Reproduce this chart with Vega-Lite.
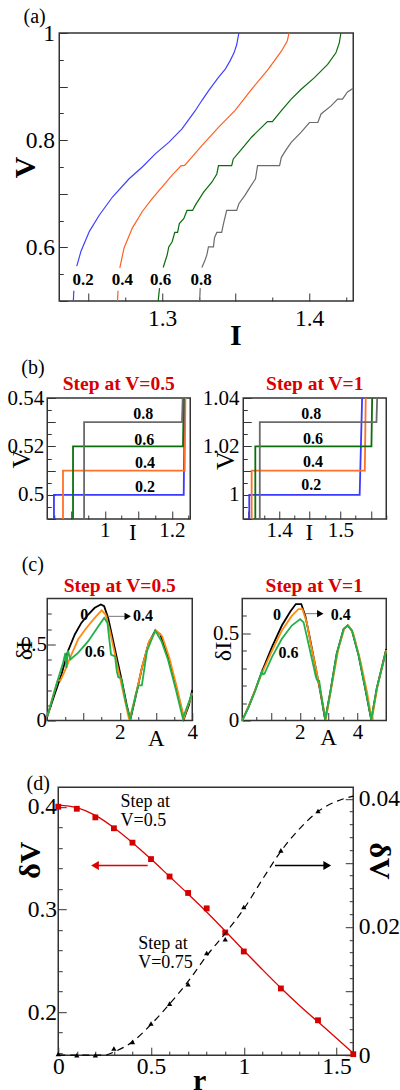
{
"$schema": "https://vega.github.io/schema/vega-lite/v6.json",
"background": "white",
"padding": {"left": 6.25, "top": 6, "right": 0, "bottom": 0},
"config": {
  "view": {"stroke": "#333333", "strokeWidth": 1.5},
  "axis": {"grid": false, "domain": false, "labelFont": "Liberation Serif", "titleFont": "Liberation Serif", "labelColor": "#000000", "titleColor": "#000000", "tickColor": "#333333", "tickWidth": 1, "labelOverlap": false, "labelFlush": false, "titleFontWeight": "normal", "labelBound": false, "format": "~g"},
  "title": {"font": "Liberation Serif", "color": "#000000", "fontWeight": "normal"},
  "text": {"font": "Liberation Serif"},
  "line": {"strokeCap": "butt"}
},
"spacing": 8.5,
"resolve": {"scale": {"color": "independent"}},
"vconcat": [
 {"spacing": 5, "resolve": {"scale": {"color": "independent"}}, "vconcat": [
  {"spacing": 0, "bounds": "flush", "resolve": {"scale": {"color": "independent"}}, "hconcat": [
   {"width": 11.2, "height": 10, "view": {"stroke": null}, "data": {"values": [{"u": 0}]}, "mark": {"type": "point", "opacity": 0}, "encoding": {}},
   {"width": 294, "height": 268,
    "title": {"text": "(a)", "anchor": "start", "frame": "group", "dx": -35.7, "offset": -6, "fontSize": 20},
    "resolve": {"axis": {"x": "independent", "y": "independent"}},
    "layer": [
     {"data": {"values": [
      {"r":"0.2","s":1,"I":1.2396,"V":0.5},{"r":"0.2","s":1,"I":1.2399,"V":0.519},
      {"r":"0.2","s":2,"I":1.2419,"V":0.565},{"r":"0.2","s":2,"I":1.2448,"V":0.593},{"r":"0.2","s":2,"I":1.2505,"V":0.63},{"r":"0.2","s":2,"I":1.2572,"V":0.66},{"r":"0.2","s":2,"I":1.2662,"V":0.694},{"r":"0.2","s":2,"I":1.2775,"V":0.728},{"r":"0.2","s":2,"I":1.2865,"V":0.75},{"r":"0.2","s":2,"I":1.2955,"V":0.775},{"r":"0.2","s":2,"I":1.3045,"V":0.796},{"r":"0.2","s":2,"I":1.3135,"V":0.821},{"r":"0.2","s":2,"I":1.3225,"V":0.855},{"r":"0.2","s":2,"I":1.327,"V":0.874},{"r":"0.2","s":2,"I":1.3315,"V":0.892},{"r":"0.2","s":2,"I":1.3383,"V":0.917},{"r":"0.2","s":2,"I":1.3428,"V":0.932},{"r":"0.2","s":2,"I":1.3462,"V":0.948},{"r":"0.2","s":2,"I":1.3489,"V":0.963},{"r":"0.2","s":2,"I":1.3507,"V":0.978},{"r":"0.2","s":2,"I":1.3518,"V":0.994},{"r":"0.2","s":2,"I":1.3522,"V":1.0},
      {"r":"0.4","s":1,"I":1.2696,"V":0.5},{"r":"0.4","s":1,"I":1.27,"V":0.519},
      {"r":"0.4","s":2,"I":1.2712,"V":0.562},{"r":"0.4","s":2,"I":1.2741,"V":0.599},{"r":"0.4","s":2,"I":1.2797,"V":0.636},{"r":"0.4","s":2,"I":1.2865,"V":0.667},{"r":"0.4","s":2,"I":1.2932,"V":0.691},{"r":"0.4","s":2,"I":1.3,"V":0.713},{"r":"0.4","s":2,"I":1.3068,"V":0.735},{"r":"0.4","s":2,"I":1.3128,"V":0.752},{"r":"0.4","s":2,"I":1.3153,"V":0.753},{"r":"0.4","s":2,"I":1.3214,"V":0.772},{"r":"0.4","s":2,"I":1.327,"V":0.79},{"r":"0.4","s":2,"I":1.3383,"V":0.824},{"r":"0.4","s":2,"I":1.3495,"V":0.855},{"r":"0.4","s":2,"I":1.3608,"V":0.895},{"r":"0.4","s":2,"I":1.3721,"V":0.932},{"r":"0.4","s":2,"I":1.3811,"V":0.966},{"r":"0.4","s":2,"I":1.3851,"V":0.985},{"r":"0.4","s":2,"I":1.3863,"V":1.0},
      {"r":"0.6","s":1,"I":1.2973,"V":0.5},{"r":"0.6","s":1,"I":1.2982,"V":0.524},
      {"r":"0.6","s":2,"I":1.3007,"V":0.5624},{"r":"0.6","s":2,"I":1.3034,"V":0.5858},{"r":"0.6","s":2,"I":1.3045,"V":0.601},{"r":"0.6","s":2,"I":1.3068,"V":0.6105},{"r":"0.6","s":2,"I":1.3086,"V":0.628},{"r":"0.6","s":2,"I":1.3105,"V":0.628},{"r":"0.6","s":2,"I":1.3117,"V":0.6444},{"r":"0.6","s":2,"I":1.3147,"V":0.6537},{"r":"0.6","s":2,"I":1.3169,"V":0.669},{"r":"0.6","s":2,"I":1.3207,"V":0.669},{"r":"0.6","s":2,"I":1.3225,"V":0.6784},{"r":"0.6","s":2,"I":1.3282,"V":0.703},{"r":"0.6","s":2,"I":1.3338,"V":0.7216},{"r":"0.6","s":2,"I":1.3372,"V":0.737},{"r":"0.6","s":2,"I":1.3383,"V":0.7525},{"r":"0.6","s":2,"I":1.3473,"V":0.7525},{"r":"0.6","s":2,"I":1.3484,"V":0.765},{"r":"0.6","s":2,"I":1.3541,"V":0.7833},{"r":"0.6","s":2,"I":1.3608,"V":0.8056},{"r":"0.6","s":2,"I":1.3716,"V":0.8346},{"r":"0.6","s":2,"I":1.375,"V":0.8346},{"r":"0.6","s":2,"I":1.3811,"V":0.855},{"r":"0.6","s":2,"I":1.3878,"V":0.8765},{"r":"0.6","s":2,"I":1.3946,"V":0.895},{"r":"0.6","s":2,"I":1.4036,"V":0.9167},{"r":"0.6","s":2,"I":1.4126,"V":0.9413},{"r":"0.6","s":2,"I":1.4182,"V":0.963},{"r":"0.6","s":2,"I":1.4205,"V":0.9815},{"r":"0.6","s":2,"I":1.4216,"V":1.0},
      {"r":"0.8","s":1,"I":1.3255,"V":0.5},{"r":"0.8","s":1,"I":1.3259,"V":0.524},
      {"r":"0.8","s":2,"I":1.327,"V":0.5624},{"r":"0.8","s":2,"I":1.3288,"V":0.5735},{"r":"0.8","s":2,"I":1.3304,"V":0.586},{"r":"0.8","s":2,"I":1.3315,"V":0.601},{"r":"0.8","s":2,"I":1.3349,"V":0.601},{"r":"0.8","s":2,"I":1.3356,"V":0.618},{"r":"0.8","s":2,"I":1.3372,"V":0.628},{"r":"0.8","s":2,"I":1.3405,"V":0.628},{"r":"0.8","s":2,"I":1.3417,"V":0.644},{"r":"0.8","s":2,"I":1.3439,"V":0.669},{"r":"0.8","s":2,"I":1.3507,"V":0.669},{"r":"0.8","s":2,"I":1.3522,"V":0.6815},{"r":"0.8","s":2,"I":1.3563,"V":0.697},{"r":"0.8","s":2,"I":1.3597,"V":0.712},{"r":"0.8","s":2,"I":1.362,"V":0.7216},{"r":"0.8","s":2,"I":1.3635,"V":0.728},{"r":"0.8","s":2,"I":1.3649,"V":0.7525},{"r":"0.8","s":2,"I":1.3799,"V":0.7525},{"r":"0.8","s":2,"I":1.3811,"V":0.768},{"r":"0.8","s":2,"I":1.3845,"V":0.783},{"r":"0.8","s":2,"I":1.3878,"V":0.796},{"r":"0.8","s":2,"I":1.3946,"V":0.815},{"r":"0.8","s":2,"I":1.4002,"V":0.833},{"r":"0.8","s":2,"I":1.4059,"V":0.833},{"r":"0.8","s":2,"I":1.4081,"V":0.849},{"r":"0.8","s":2,"I":1.4149,"V":0.864},{"r":"0.8","s":2,"I":1.4194,"V":0.8766},{"r":"0.8","s":2,"I":1.4227,"V":0.8766},{"r":"0.8","s":2,"I":1.4261,"V":0.89},{"r":"0.8","s":2,"I":1.43,"V":0.897}
     ]},
     "mark": {"type": "line", "strokeWidth": 1.2},
     "encoding": {
      "x": {"field": "I", "type": "quantitative", "scale": {"domain": [1.23, 1.43], "nice": false, "zero": false},
        "axis": {"orient": "bottom", "values": [1.3,1.4], "tickSize": -8, "labelPadding": 13, "labelFontSize": 23.5, "title": "I", "titleFontSize": 30, "titleFontWeight": "bold", "titleX": 176, "titleY": 19.5}},
      "y": {"field": "V", "type": "quantitative", "scale": {"domain": [0.5, 1], "nice": false, "zero": false},
        "axis": {"orient": "left", "values": [0.6,0.8,1], "tickSize": -8, "labelPadding": 12.7, "labelFontSize": 23.5, "title": "V", "titleFontSize": 30, "titleFontWeight": "bold", "titleX": -18.4, "titleY": 134}},
      "color": {"field": "r", "type": "nominal", "scale": {"domain": ["0.2","0.4","0.6","0.8"], "range": ["#4040ff","#ff6020","#0b6b0b","#6b6b6b"]}, "legend": null},
      "detail": {"field": "s", "type": "nominal"},
      "order": {"value": null}
     }},
     {"data": {"values": [{"t":"0.2","I":1.2462,"V":0.54},{"t":"0.4","I":1.273,"V":0.54},{"t":"0.6","I":1.2989,"V":0.54},{"t":"0.8","I":1.3265,"V":0.54}]},
      "mark": {"type": "text", "fontWeight": "bold", "fontSize": 17, "color": "#000000"},
      "encoding": {
       "x": {"field": "I", "type": "quantitative", "axis": {"orient": "bottom", "values": [1.25,1.275,1.325,1.35,1.375,1.425], "labels": false, "title": null, "tickSize": {"condition": {"test": "abs(datum.value*20-round(datum.value*20))<0.001", "value": -8}, "value": -4}}},
       "y": {"field": "V", "type": "quantitative", "axis": {"orient": "left", "values": [0.5,0.55,0.65,0.7,0.75,0.85,0.9,0.95], "labels": false, "title": null, "tickSize": {"condition": {"test": "abs(datum.value*10-round(datum.value*10))<0.001", "value": -8}, "value": -4}}},
       "text": {"field": "t"}}}
    ]}
  ]},
  {"spacing": 53, "bounds": "flush", "resolve": {"scale": {"color": "independent"}},
   "title": {"text": "(b)", "anchor": "start", "frame": "bounds", "dx": 15, "offset": -4.5, "fontSize": 20},
   "hconcat": [
   {"width": 143, "height": 121,
    "title": {"text": "Step at V=0.5", "color": "#d80000", "fontWeight": "bold", "fontSize": 19.5, "offset": -7.7},
    "resolve": {"axis": {"x": "independent", "y": "independent"}},
    "layer": [
     {"data": {"values": [
      {"r":"0.2","I":0.848,"V":0.49},{"r":"0.2","I":0.848,"V":0.5},{"r":"0.2","I":1.2355,"V":0.5},{"r":"0.2","I":1.2385,"V":0.54},
      {"r":"0.4","I":0.875,"V":0.49},{"r":"0.4","I":0.875,"V":0.51},{"r":"0.4","I":1.2384,"V":0.51},{"r":"0.4","I":1.2405,"V":0.54},
      {"r":"0.6","I":0.905,"V":0.49},{"r":"0.6","I":0.905,"V":0.52},{"r":"0.6","I":1.2333,"V":0.52},{"r":"0.6","I":1.2355,"V":0.54},
      {"r":"0.8","I":0.938,"V":0.49},{"r":"0.8","I":0.938,"V":0.53},{"r":"0.8","I":1.2303,"V":0.53},{"r":"0.8","I":1.2325,"V":0.54}
     ]},
     "mark": {"type": "line", "strokeWidth": 1.8},
     "encoding": {
      "x": {"field": "I", "type": "quantitative", "scale": {"domain": [0.828, 1.255], "nice": false, "zero": false},
        "axis": {"orient": "bottom", "values": [1,1.2], "tickSize": -8, "labelPadding": 8, "labelFontSize": 21, "title": "I", "titleFontSize": 23, "titleX": 85, "titleY": 2.5}},
      "y": {"field": "V", "type": "quantitative", "scale": {"domain": [0.49, 0.54], "nice": false, "zero": false},
        "axis": {"orient": "left", "values": [0.5,0.52,0.54], "tickSize": -8, "labelPadding": 11.5, "labelFontSize": 21, "title": "V", "titleFontSize": 26, "titleX": -13, "titleY": 60.5}},
      "color": {"field": "r", "type": "nominal", "scale": {"domain": ["0.2","0.4","0.6","0.8"], "range": ["#3a3aff","#ff7028","#0b700b","#6b6b6b"]}, "legend": null},
      "order": {"value": null}
     }},
     {"data": {"values": [{"t":"0.8","I":1.115,"V":0.5332},{"t":"0.6","I":1.118,"V":0.5228},{"t":"0.4","I":1.12,"V":0.513},{"t":"0.2","I":1.12,"V":0.5033}]},
      "mark": {"type": "text", "fontWeight": "bold", "fontSize": 16, "color": "#000000"},
      "encoding": {
       "x": {"field": "I", "type": "quantitative", "axis": {"orient": "bottom", "values": [0.85,0.9,0.95,1.05,1.1,1.15,1.25], "labels": false, "title": null, "tickSize": {"condition": {"test": "abs(datum.value*10-round(datum.value*10))<0.001", "value": -8}, "value": -4}}},
       "y": {"field": "V", "type": "quantitative", "axis": {"orient": "left", "values": [0.49,0.495,0.505,0.51,0.515,0.525,0.53,0.535], "labels": false, "title": null, "tickSize": {"condition": {"test": "abs(datum.value*100-round(datum.value*100))<0.001", "value": -8}, "value": -4}}},
       "text": {"field": "t"}}}
    ]},
   {"width": 143, "height": 121,
    "title": {"text": "Step at V=1", "color": "#d80000", "fontWeight": "bold", "fontSize": 19.5, "offset": -7.7},
    "resolve": {"axis": {"x": "independent", "y": "independent"}},
    "layer": [
     {"data": {"values": [
      {"r":"0.2","I":1.3513,"V":0.99},{"r":"0.2","I":1.3513,"V":1.0},{"r":"0.2","I":1.5316,"V":1.0},{"r":"0.2","I":1.5356,"V":1.04},
      {"r":"0.4","I":1.3552,"V":0.99},{"r":"0.4","I":1.3552,"V":1.01},{"r":"0.4","I":1.54,"V":1.01},{"r":"0.4","I":1.5415,"V":1.04},
      {"r":"0.6","I":1.3612,"V":0.99},{"r":"0.6","I":1.3612,"V":1.02},{"r":"0.6","I":1.5508,"V":1.02},{"r":"0.6","I":1.552,"V":1.04},
      {"r":"0.8","I":1.3685,"V":0.99},{"r":"0.8","I":1.3685,"V":1.03},{"r":"0.8","I":1.559,"V":1.03},{"r":"0.8","I":1.5602,"V":1.04}
     ]},
     "mark": {"type": "line", "strokeWidth": 1.8},
     "encoding": {
      "x": {"field": "I", "type": "quantitative", "scale": {"domain": [1.3415, 1.575], "nice": false, "zero": false},
        "axis": {"orient": "bottom", "values": [1.4,1.5], "tickSize": -8, "labelPadding": 8, "labelFontSize": 21, "title": "I", "titleFontSize": 23, "titleX": 65.5, "titleY": 2.5}},
      "y": {"field": "V", "type": "quantitative", "scale": {"domain": [0.99, 1.04], "nice": false, "zero": false},
        "axis": {"orient": "left", "values": [1,1.02,1.04], "tickSize": -8, "labelPadding": 12.2, "labelFontSize": 21, "title": "V", "titleFontSize": 26, "titleX": -5, "titleY": 62}},
      "color": {"field": "r", "type": "nominal", "scale": {"domain": ["0.2","0.4","0.6","0.8"], "range": ["#3a3aff","#ff7028","#0b700b","#6b6b6b"]}, "legend": null},
      "order": {"value": null}
     }},
     {"data": {"values": [{"t":"0.8","I":1.4525,"V":1.0334},{"t":"0.6","I":1.4552,"V":1.0232},{"t":"0.4","I":1.4552,"V":1.0137},{"t":"0.2","I":1.4525,"V":1.0039}]},
      "mark": {"type": "text", "fontWeight": "bold", "fontSize": 16, "color": "#000000"},
      "encoding": {
       "x": {"field": "I", "type": "quantitative", "axis": {"orient": "bottom", "values": [1.35,1.375,1.425,1.45,1.475,1.525,1.55,1.575], "labels": false, "title": null, "tickSize": {"condition": {"test": "abs(datum.value*20-round(datum.value*20))<0.001", "value": -8}, "value": -4}}},
       "y": {"field": "V", "type": "quantitative", "axis": {"orient": "left", "values": [0.99,0.995,1.005,1.01,1.015,1.025,1.03,1.035], "labels": false, "title": null, "tickSize": {"condition": {"test": "abs(datum.value*100-round(datum.value*100))<0.001", "value": -8}, "value": -4}}},
       "text": {"field": "t"}}}
    ]}
  ]}
 ]},
 {"spacing": 20.7, "resolve": {"scale": {"color": "independent"}}, "vconcat": [
  {"spacing": 50, "bounds": "flush", "resolve": {"scale": {"color": "independent"}},
   "title": {"text": "(c)", "anchor": "start", "frame": "bounds", "dx": 10.2, "offset": 0, "fontSize": 20},
   "hconcat": [
   {"width": 145, "height": 122,
    "title": {"text": "Step at V=0.5", "color": "#d80000", "fontWeight": "bold", "fontSize": 19.5, "offset": 2.25},
    "resolve": {"axis": {"x": "independent", "y": "independent"}},
    "layer": [
     {"data": {"values": [
      {"r":"0","A":0,"d":0.026},{"r":"0","A":0.2,"d":0.169},{"r":"0","A":0.39,"d":0.3},{"r":"0","A":0.57,"d":0.454},{"r":"0","A":0.76,"d":0.564},{"r":"0","A":0.94,"d":0.64},{"r":"0","A":1.13,"d":0.695},{"r":"0","A":1.31,"d":0.739},{"r":"0","A":1.48,"d":0.761},{"r":"0","A":1.57,"d":0.75},{"r":"0","A":1.68,"d":0.673},{"r":"0","A":1.78,"d":0.564},{"r":"0","A":1.92,"d":0.41},{"r":"0","A":2.06,"d":0.257},{"r":"0","A":2.19,"d":0.103},{"r":"0","A":2.29,"d":0.005},{"r":"0","A":2.43,"d":0.147},{"r":"0","A":2.61,"d":0.344},{"r":"0","A":2.8,"d":0.509},{"r":"0","A":2.98,"d":0.59},{"r":"0","A":3.12,"d":0.564},{"r":"0","A":3.31,"d":0.432},{"r":"0","A":3.54,"d":0.235},{"r":"0","A":3.77,"d":0.011},{"r":"0","A":3.91,"d":0.103},{"r":"0","A":4.0,"d":0.2},
      {"r":"0.4","A":0,"d":0.026},{"r":"0.4","A":0.156,"d":0.158},{"r":"0.4","A":0.295,"d":0.268},{"r":"0.4","A":0.36,"d":0.261},{"r":"0.4","A":0.48,"d":0.322},{"r":"0.4","A":0.667,"d":0.432},{"r":"0.4","A":0.85,"d":0.531},{"r":"0.4","A":1.08,"d":0.607},{"r":"0.4","A":1.31,"d":0.673},{"r":"0.4","A":1.5,"d":0.722},{"r":"0.4","A":1.61,"d":0.695},{"r":"0.4","A":1.73,"d":0.586},{"r":"0.4","A":1.87,"d":0.432},{"r":"0.4","A":2.01,"d":0.278},{"r":"0.4","A":2.15,"d":0.125},{"r":"0.4","A":2.26,"d":0.005},{"r":"0.4","A":2.41,"d":0.136},{"r":"0.4","A":2.61,"d":0.344},{"r":"0.4","A":2.81,"d":0.52},{"r":"0.4","A":3.01,"d":0.59},{"r":"0.4","A":3.17,"d":0.553},{"r":"0.4","A":3.37,"d":0.41},{"r":"0.4","A":3.58,"d":0.213},{"r":"0.4","A":3.77,"d":0.017},{"r":"0.4","A":4.0,"d":0.18},
      {"r":"0.6","A":0,"d":0.026},{"r":"0.6","A":0.25,"d":0.235},{"r":"0.6","A":0.435,"d":0.377},{"r":"0.6","A":0.5,"d":0.443},{"r":"0.6","A":0.53,"d":0.344},{"r":"0.6","A":0.57,"d":0.459},{"r":"0.6","A":0.64,"d":0.4},{"r":"0.6","A":0.85,"d":0.443},{"r":"0.6","A":1.13,"d":0.52},{"r":"0.6","A":1.41,"d":0.618},{"r":"0.6","A":1.57,"d":0.673},{"r":"0.6","A":1.66,"d":0.64},{"r":"0.6","A":1.76,"d":0.432},{"r":"0.6","A":1.87,"d":0.421},{"r":"0.6","A":1.92,"d":0.322},{"r":"0.6","A":1.96,"d":0.283},{"r":"0.6","A":2.04,"d":0.278},{"r":"0.6","A":2.17,"d":0.114},{"r":"0.6","A":2.29,"d":0.005},{"r":"0.6","A":2.44,"d":0.169},{"r":"0.6","A":2.52,"d":0.23},{"r":"0.6","A":2.61,"d":0.23},{"r":"0.6","A":2.75,"d":0.454},{"r":"0.6","A":2.98,"d":0.59},{"r":"0.6","A":3.15,"d":0.52},{"r":"0.6","A":3.33,"d":0.4},{"r":"0.6","A":3.54,"d":0.21},{"r":"0.6","A":3.74,"d":0.015},{"r":"0.6","A":4.0,"d":0.18}
     ]},
     "mark": {"type": "line", "strokeWidth": 1.8},
     "encoding": {
      "x": {"field": "A", "type": "quantitative", "scale": {"domain": [0, 4], "nice": false, "zero": false},
        "axis": {"orient": "bottom", "values": [2,4], "tickSize": -8, "labelPadding": 9, "labelFontSize": 21, "title": "A", "titleFontSize": 23, "titleX": 108.5, "titleY": 6.7}},
      "y": {"field": "d", "type": "quantitative", "scale": {"domain": [0, 0.8], "nice": false, "zero": false},
        "axis": {"orient": "left", "values": [0,0.5], "tickSize": -8, "labelPadding": 8.7, "labelFontSize": 21, "title": "δI", "titleFontSize": 24, "titleX": -11, "titleY": 51.6}},
      "color": {"field": "r", "type": "nominal", "scale": {"domain": ["0","0.4","0.6"], "range": ["#000000","#ff8c10","#22b04a"]}, "legend": null},
      "order": {"value": null}
     }},
     {"data": {"values": [{"A":1.66,"A2":2.15,"d":0.683}]},
      "mark": {"type": "rule", "color": "#777777", "strokeWidth": 1},
      "encoding": {"x": {"field": "A", "type": "quantitative", "axis": null}, "x2": {"field": "A2"}, "y": {"field": "d", "type": "quantitative", "axis": null}}},
     {"data": {"values": [{"A":2.22,"d":0.683}]},
      "mark": {"type": "point", "shape": "triangle-right", "filled": true, "color": "#000000", "size": 55, "opacity": 1},
      "encoding": {"x": {"field": "A", "type": "quantitative", "axis": null}, "y": {"field": "d", "type": "quantitative", "axis": null}}},
     {"data": {"values": [{"t":"0","A":1.02,"d":0.694},{"t":"0.4","A":2.64,"d":0.683},{"t":"0.6","A":1.31,"d":0.447}]},
      "mark": {"type": "text", "fontWeight": "bold", "fontSize": 16, "color": "#000000"},
      "encoding": {
       "x": {"field": "A", "type": "quantitative", "axis": {"orient": "bottom", "values": [0.5,1,1.5,2.5,3,3.5], "labels": false, "title": null, "tickSize": {"condition": {"test": "abs(datum.value-round(datum.value))<0.001", "value": -8}, "value": -4}}},
       "y": {"field": "d", "type": "quantitative", "axis": {"orient": "left", "values": [0.1,0.2,0.3,0.4,0.6,0.7], "labels": false, "title": null, "tickSize": -4}},
       "text": {"field": "t"}}}
    ]},
   {"width": 144, "height": 122,
    "title": {"text": "Step at V=1", "color": "#d80000", "fontWeight": "bold", "fontSize": 19.5, "offset": 2.25},
    "resolve": {"axis": {"x": "independent", "y": "independent"}},
    "layer": [
     {"data": {"values": [
      {"r":"0","A":0,"d":0},{"r":"0","A":0.22,"d":0.08},{"r":"0","A":0.45,"d":0.175},{"r":"0","A":0.68,"d":0.279},{"r":"0","A":1.03,"d":0.421},{"r":"0","A":1.375,"d":0.545},{"r":"0","A":1.67,"d":0.625},{"r":"0","A":1.86,"d":0.668},{"r":"0","A":2.05,"d":0.668},{"r":"0","A":2.19,"d":0.6},{"r":"0","A":2.33,"d":0.488},{"r":"0","A":2.51,"d":0.336},{"r":"0","A":2.71,"d":0.165},{"r":"0","A":2.88,"d":0.004},{"r":"0","A":3.06,"d":0.165},{"r":"0","A":3.28,"d":0.383},{"r":"0","A":3.52,"d":0.525},{"r":"0","A":3.66,"d":0.545},{"r":"0","A":3.81,"d":0.516},{"r":"0","A":4.04,"d":0.374},{"r":"0","A":4.27,"d":0.184},{"r":"0","A":4.48,"d":0.004},{"r":"0","A":4.67,"d":0.184},{"r":"0","A":5.0,"d":0.41},
      {"r":"0.4","A":0,"d":0},{"r":"0.4","A":0.22,"d":0.08},{"r":"0.4","A":0.45,"d":0.175},{"r":"0.4","A":0.68,"d":0.27},{"r":"0.4","A":1.03,"d":0.4},{"r":"0.4","A":1.375,"d":0.516},{"r":"0.4","A":1.72,"d":0.6},{"r":"0.4","A":1.95,"d":0.639},{"r":"0.4","A":2.09,"d":0.639},{"r":"0.4","A":2.24,"d":0.563},{"r":"0.4","A":2.39,"d":0.43},{"r":"0.4","A":2.56,"d":0.298},{"r":"0.4","A":2.74,"d":0.146},{"r":"0.4","A":2.9,"d":0.004},{"r":"0.4","A":3.09,"d":0.184},{"r":"0.4","A":3.34,"d":0.411},{"r":"0.4","A":3.55,"d":0.529},{"r":"0.4","A":3.69,"d":0.545},{"r":"0.4","A":3.86,"d":0.497},{"r":"0.4","A":4.1,"d":0.345},{"r":"0.4","A":4.33,"d":0.165},{"r":"0.4","A":4.5,"d":0.004},{"r":"0.4","A":4.7,"d":0.2},{"r":"0.4","A":5.0,"d":0.405},
      {"r":"0.6","A":0,"d":0},{"r":"0.6","A":0.22,"d":0.075},{"r":"0.6","A":0.45,"d":0.17},{"r":"0.6","A":0.64,"d":0.262},{"r":"0.6","A":0.68,"d":0.283},{"r":"0.6","A":0.72,"d":0.265},{"r":"0.6","A":0.77,"d":0.268},{"r":"0.6","A":1.03,"d":0.364},{"r":"0.6","A":1.375,"d":0.469},{"r":"0.6","A":1.72,"d":0.545},{"r":"0.6","A":2.01,"d":0.582},{"r":"0.6","A":2.13,"d":0.563},{"r":"0.6","A":2.3,"d":0.44},{"r":"0.6","A":2.45,"d":0.33},{"r":"0.6","A":2.55,"d":0.255},{"r":"0.6","A":2.59,"d":0.233},{"r":"0.6","A":2.67,"d":0.228},{"r":"0.6","A":2.77,"d":0.12},{"r":"0.6","A":2.88,"d":0.004},{"r":"0.6","A":3.06,"d":0.165},{"r":"0.6","A":3.28,"d":0.383},{"r":"0.6","A":3.52,"d":0.525},{"r":"0.6","A":3.66,"d":0.545},{"r":"0.6","A":3.81,"d":0.516},{"r":"0.6","A":4.04,"d":0.374},{"r":"0.6","A":4.27,"d":0.184},{"r":"0.6","A":4.48,"d":0.004},{"r":"0.6","A":4.67,"d":0.184},{"r":"0.6","A":5.0,"d":0.4}
     ]},
     "mark": {"type": "line", "strokeWidth": 1.8},
     "encoding": {
      "x": {"field": "A", "type": "quantitative", "scale": {"domain": [0, 5], "nice": false, "zero": false},
        "axis": {"orient": "bottom", "values": [2,4], "tickSize": -8, "labelPadding": 9, "labelFontSize": 21, "title": "A", "titleFontSize": 23, "titleX": 85.8, "titleY": 6}},
      "y": {"field": "d", "type": "quantitative", "scale": {"domain": [0, 0.7], "nice": false, "zero": false},
        "axis": {"orient": "left", "values": [0,0.5], "tickSize": -8, "labelPadding": 11.4, "labelFontSize": 21, "title": "δI", "titleFontSize": 24, "titleX": -6.7, "titleY": 52.5}},
      "color": {"field": "r", "type": "nominal", "scale": {"domain": ["0","0.4","0.6"], "range": ["#000000","#ff8c10","#22b04a"]}, "legend": null},
      "order": {"value": null}
     }},
     {"data": {"values": [{"A":2.14,"A2":2.62,"d":0.613}]},
      "mark": {"type": "rule", "color": "#777777", "strokeWidth": 1},
      "encoding": {"x": {"field": "A", "type": "quantitative", "axis": null}, "x2": {"field": "A2"}, "y": {"field": "d", "type": "quantitative", "axis": null}}},
     {"data": {"values": [{"A":2.71,"d":0.613}]},
      "mark": {"type": "point", "shape": "triangle-right", "filled": true, "color": "#000000", "size": 55, "opacity": 1},
      "encoding": {"x": {"field": "A", "type": "quantitative", "axis": null}, "y": {"field": "d", "type": "quantitative", "axis": null}}},
     {"data": {"values": [{"t":"0","A":1.21,"d":0.607},{"t":"0.4","A":3.42,"d":0.607},{"t":"0.6","A":1.61,"d":0.389}]},
      "mark": {"type": "text", "fontWeight": "bold", "fontSize": 16, "color": "#000000"},
      "encoding": {
       "x": {"field": "A", "type": "quantitative", "axis": {"orient": "bottom", "values": [0.5,1,1.5,2.5,3,3.5,4.5], "labels": false, "title": null, "tickSize": {"condition": {"test": "abs(datum.value-round(datum.value))<0.001", "value": -8}, "value": -4}}},
       "y": {"field": "d", "type": "quantitative", "axis": {"orient": "left", "values": [0.1,0.2,0.3,0.4,0.6], "labels": false, "title": null, "tickSize": -4}},
       "text": {"field": "t"}}}
    ]}
  ]},
  {"spacing": 0, "bounds": "flush", "resolve": {"scale": {"color": "independent"}}, "hconcat": [
   {"width": 10.2, "height": 10, "view": {"stroke": null}, "data": {"values": [{"u": 0}]}, "mark": {"type": "point", "opacity": 0}, "encoding": {}},
   {"width": 295, "height": 268,
    "title": {"text": "(d)", "anchor": "start", "frame": "group", "dx": -31.7, "offset": -7, "fontSize": 20},
    "resolve": {"scale": {"y": "independent"}, "axis": {"x": "independent", "y": "independent"}},
    "layer": [
     {"resolve": {"axis": {"x": "independent", "y": "independent"}},
      "layer": [
      {"data": {"values": [{"r":0,"v":0.4015},{"r":0.1,"v":0.399},{"r":0.2,"v":0.3915},{"r":0.3,"v":0.3795},{"r":0.4,"v":0.365},{"r":0.5,"v":0.349},{"r":0.6,"v":0.332},{"r":0.7,"v":0.315},{"r":0.8,"v":0.2975},{"r":0.9,"v":0.279},{"r":1.0,"v":0.26},{"r":1.1,"v":0.2415},{"r":1.2,"v":0.2235},{"r":1.3,"v":0.2065},{"r":1.4,"v":0.1905},{"r":1.5,"v":0.1745},{"r":1.59,"v":0.16}]},
       "mark": {"type": "line", "color": "#e00000", "strokeWidth": 1.3, "interpolate": "monotone"},
       "encoding": {
        "x": {"field": "r", "type": "quantitative", "scale": {"domain": [0, 1.59], "nice": false, "zero": false},
          "axis": {"orient": "bottom", "values": [0,0.5,1,1.5], "tickSize": -8, "labelPadding": 7, "labelFontSize": 23.5, "title": "r", "titleFontSize": 30, "titleFontWeight": "bold", "titleX": 140.8, "titleY": 10}},
        "y": {"field": "v", "type": "quantitative", "scale": {"domain": [0.158, 0.419], "nice": false, "zero": false},
          "axis": {"orient": "left", "values": [0.2,0.3,0.4], "tickSize": -8, "labelPadding": 9.7, "labelFontSize": 23.5, "title": "δV", "titleFontSize": 30, "titleFontWeight": "bold", "titleX": -12.4, "titleY": 72.5}},
        "order": {"value": null}
       }},
      {"data": {"values": [{"r":0,"v":0.4},{"r":0.1,"v":0.398},{"r":0.2,"v":0.3896},{"r":0.3,"v":0.379},{"r":0.4,"v":0.365},{"r":0.5,"v":0.349},{"r":0.6,"v":0.332},{"r":0.7,"v":0.316},{"r":0.8,"v":0.301},{"r":0.9,"v":0.2775},{"r":1.0,"v":0.259},{"r":1.2,"v":0.223},{"r":1.4,"v":0.192},{"r":1.59,"v":0.159}]},
       "mark": {"type": "point", "shape": "square", "filled": true, "color": "#d40000", "size": 34, "opacity": 1},
       "encoding": {
        "x": {"field": "r", "type": "quantitative", "axis": {"orient": "bottom", "values": [0.1,0.2,0.3,0.4,0.6,0.7,0.8,0.9,1.1,1.2,1.3,1.4], "labels": false, "title": null, "tickSize": -4}},
        "y": {"field": "v", "type": "quantitative", "axis": {"orient": "left", "values": [0.16,0.18,0.22,0.24,0.26,0.28,0.32,0.34,0.36,0.38], "labels": false, "title": null, "tickSize": -4}}}},
      {"data": {"values": [{"r":0.2,"r2":0.482,"v":0.3428}]},
       "mark": {"type": "rule", "color": "#e00000", "strokeWidth": 1.5},
       "encoding": {"x": {"field": "r", "type": "quantitative", "axis": null}, "x2": {"field": "r2"}, "y": {"field": "v", "type": "quantitative", "axis": null}}},
      {"data": {"values": [{"r":0.198,"v":0.3428}]},
       "mark": {"type": "point", "shape": "triangle-left", "filled": true, "color": "#e00000", "size": 80, "opacity": 1},
       "encoding": {"x": {"field": "r", "type": "quantitative", "axis": null}, "y": {"field": "v", "type": "quantitative", "axis": null}}},
      {"data": {"values": [{"r":1.168,"r2":1.45,"v":0.3428}]},
       "mark": {"type": "rule", "color": "#000000", "strokeWidth": 1.5},
       "encoding": {"x": {"field": "r", "type": "quantitative", "axis": null}, "x2": {"field": "r2"}, "y": {"field": "v", "type": "quantitative", "axis": null}}},
      {"data": {"values": [{"r":1.45,"v":0.3428}]},
       "mark": {"type": "point", "shape": "triangle-right", "filled": true, "color": "#000000", "size": 80, "opacity": 1},
       "encoding": {"x": {"field": "r", "type": "quantitative", "axis": null}, "y": {"field": "v", "type": "quantitative", "axis": null}}},
      {"data": {"values": [{"r":0.336,"v":0.4129,"t":"Step at\nV=0.5"},{"r":0.431,"v":0.2746,"t":"Step at\nV=0.75"}]},
       "mark": {"type": "text", "align": "left", "baseline": "top", "fontSize": 18, "lineBreak": "\n", "lineHeight": 19, "color": "#000000"},
       "encoding": {"x": {"field": "r", "type": "quantitative", "axis": null}, "y": {"field": "v", "type": "quantitative", "axis": null}, "text": {"field": "t"}}}
     ]},
     {"resolve": {"axis": {"y": "independent"}},
      "layer": [
      {"data": {"values": [{"r":0,"w":0},{"r":0.25,"w":0},{"r":0.3,"w":0.0005},{"r":0.4,"w":0.0021},{"r":0.5,"w":0.0048},{"r":0.6,"w":0.008},{"r":0.7,"w":0.0115},{"r":0.8,"w":0.0155},{"r":0.9,"w":0.019},{"r":1.0,"w":0.0228},{"r":1.1,"w":0.0274},{"r":1.2,"w":0.0318},{"r":1.3,"w":0.0353},{"r":1.4,"w":0.038},{"r":1.5,"w":0.0396},{"r":1.59,"w":0.0404}]},
       "mark": {"type": "line", "color": "#000000", "strokeWidth": 1.2, "strokeDash": [7, 5], "interpolate": "monotone"},
       "encoding": {
        "x": {"field": "r", "type": "quantitative", "axis": null},
        "y": {"field": "w", "type": "quantitative", "scale": {"domain": [0, 0.0418], "nice": false, "zero": false},
          "axis": {"orient": "right", "values": [0,0.02,0.04], "tickSize": -8, "labelPadding": 13, "labelFontSize": 23.5, "title": "δV", "titleFontSize": 30, "titleFontWeight": "bold", "titleX": 10, "titleY": 73.3}},
        "order": {"value": null}
       }},
      {"data": {"values": [{"r":0,"w":0.0002},{"r":0.1,"w":0},{"r":0.2,"w":0},{"r":0.3,"w":0.00104},{"r":0.4,"w":0.00208},{"r":0.5,"w":0.00494},{"r":0.6,"w":0.00805},{"r":0.7,"w":0.01106},{"r":0.8,"w":0.01595},{"r":0.9,"w":0.01808},{"r":1.0,"w":0.02312},{"r":1.2,"w":0.03195},{"r":1.4,"w":0.03808}]},
       "mark": {"type": "point", "shape": "triangle-up", "filled": true, "color": "#000000", "size": 28, "opacity": 1},
       "encoding": {
        "x": {"field": "r", "type": "quantitative", "axis": null},
        "y": {"field": "w", "type": "quantitative", "axis": {"orient": "right", "values": [0.002,0.004,0.006,0.008,0.01,0.012,0.014,0.016,0.018,0.022,0.024,0.026,0.028,0.03,0.032,0.034,0.036,0.038], "labels": false, "title": null, "tickSize": {"condition": {"test": "abs(datum.value*100-round(datum.value*100))<0.001", "value": -8}, "value": -4}}}}}
     ]}
    ]}
  ]}
 ]}
]
}
